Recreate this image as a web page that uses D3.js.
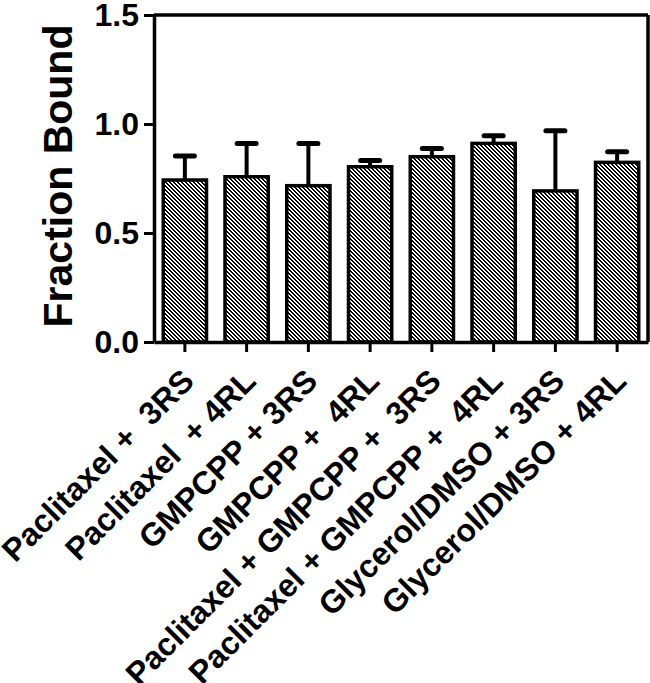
<!DOCTYPE html>
<html>
<head>
<meta charset="utf-8">
<script src="https://cdn.jsdelivr.net/npm/d3@7"></script>
<style>
  body { margin: 0; background: #fff; }
  svg text { font-family: Arial, "Liberation Sans", sans-serif; font-weight: bold; fill: #000; white-space: pre; }
</style>
</head>
<body>
<div id="chart-container"></div>
<script>
const categories = [
    "Paclitaxel +  3RS",
    "Paclitaxel  + 4RL",
    "GMPCPP + 3RS",
    "GMPCPP +  4RL",
    "Paclitaxel + GMPCPP +  3RS",
    "Paclitaxel + GMPCPP +  4RL",
    "Glycerol/DMSO + 3RS",
    "Glycerol/DMSO + 4RL"
];
const means = [0.743, 0.758, 0.717, 0.804, 0.850, 0.911, 0.693, 0.824];
const errors = [0.110, 0.153, 0.194, 0.028, 0.038, 0.035, 0.276, 0.049];
const yTicks = [0, 0.5, 1.0, 1.5];

const margin = { top: 15, right: 2, bottom: 341, left: 154 };
const width = 650 - margin.left - margin.right;
const height = 683 - margin.top - margin.bottom;

const root = d3.select("#chart-container")
    .append("svg")
    .attr("width", 650)
    .attr("height", 683);

// pixel hatch, "\" direction, 4px tile
const pat = root.append("defs").append("pattern")
    .attr("id", "hatch")
    .attr("patternUnits", "userSpaceOnUse")
    .attr("width", 4)
    .attr("height", 4);
pat.append("rect").attr("width", 4).attr("height", 4).attr("fill", "#fff");
d3.range(4).forEach(r => {
    [r, (r + 1) % 4].forEach(c => {
        pat.append("rect")
            .attr("x", c).attr("y", r)
            .attr("width", 1).attr("height", 1)
            .attr("fill", "#000")
            .attr("shape-rendering", "crispEdges");
    });
});

const svg = root.append("g")
    .attr("transform", `translate(${margin.left},${margin.top})`);

const x = d3.scaleBand()
    .domain(categories)
    .range([0, width])
    .paddingInner(0.3)
    .paddingOuter(0.15);

const y = d3.scaleLinear()
    .domain([0, 1.5])
    .range([height, 0]);

const data = categories.map((c, i) => ({ cat: c, mean: means[i], err: errors[i] }));

// error bars (upper only)
svg.selectAll(".err")
    .data(data)
    .enter().append("line")
    .attr("class", "err")
    .attr("x1", d => x(d.cat) + x.bandwidth() / 2)
    .attr("x2", d => x(d.cat) + x.bandwidth() / 2)
    .attr("y1", d => y(d.mean))
    .attr("y2", d => y(d.mean + d.err))
    .attr("stroke", "#000")
    .attr("stroke-width", 4);

svg.selectAll(".cap")
    .data(data)
    .enter().append("line")
    .attr("class", "cap")
    .attr("x1", d => x(d.cat) + x.bandwidth() / 2 - 9.5)
    .attr("x2", d => x(d.cat) + x.bandwidth() / 2 + 9.5)
    .attr("y1", d => y(d.mean + d.err))
    .attr("y2", d => y(d.mean + d.err))
    .attr("stroke", "#000")
    .attr("stroke-width", 5)
    .attr("stroke-linecap", "round");

svg.selectAll(".bar")
    .data(data)
    .enter().append("rect")
    .attr("class", "bar")
    .attr("x", d => x(d.cat))
    .attr("width", x.bandwidth())
    .attr("y", d => y(d.mean))
    .attr("height", d => height - y(d.mean))
    .attr("fill", "url(#hatch)")
    .attr("stroke", "#000")
    .attr("stroke-width", 3.5);

// frame top / right
svg.append("line")
    .attr("x1", 0).attr("x2", width)
    .attr("y1", 0).attr("y2", 0)
    .attr("stroke", "#000").attr("stroke-width", 3.5);
svg.append("line")
    .attr("x1", width).attr("x2", width)
    .attr("y1", 0).attr("y2", height)
    .attr("stroke", "#000").attr("stroke-width", 3.5);

const xAxis = svg.append("g")
    .attr("transform", `translate(0,${height})`)
    .call(d3.axisBottom(x).tickSize(10).tickSizeOuter(0));
xAxis.selectAll("text")
    .style("font-size", "32px")
    .style("text-anchor", "end")
    .attr("x", 0)
    .attr("y", 0)
    .attr("dy", 0)
    .attr("transform", "translate(11,41) rotate(-45)");

const yAxis = svg.append("g")
    .call(d3.axisLeft(y).tickValues(yTicks).tickFormat(d3.format(".1f")).tickSize(10).tickSizeOuter(0).tickPadding(5));
yAxis.selectAll("text")
    .style("font-size", "32px");

[xAxis, yAxis].forEach(a => {
    a.select(".domain").attr("stroke-width", 3.5);
    a.selectAll(".tick line").attr("stroke-width", 3);
});

svg.append("text")
    .attr("text-anchor", "middle")
    .attr("transform", `translate(${72 - margin.left},${176 - margin.top}) rotate(-90)`)
    .style("font-size", "41px")
    .text("Fraction Bound");
</script>
</body>
</html>
